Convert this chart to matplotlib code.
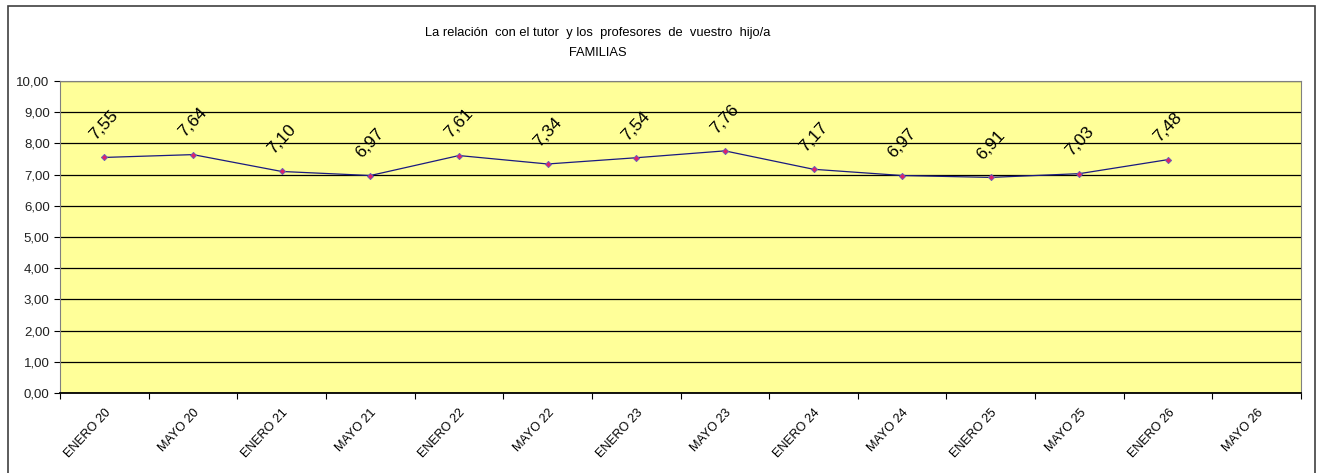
import matplotlib
matplotlib.use('Agg')
import matplotlib.pyplot as plt
import matplotlib.patches as patches

plt.rcParams['font.family'] = ['Liberation Sans', 'DejaVu Sans']

################################################################################
# Data
periodos = ['ENERO 20', 'MAYO 20', 'ENERO 21', 'MAYO 21', 'ENERO 22', 'MAYO 22',
            'ENERO 23', 'MAYO 23', 'ENERO 24', 'MAYO 24', 'ENERO 25', 'MAYO 25',
            'ENERO 26', 'MAYO 26']
valores = [7.55, 7.64, 7.10, 6.97, 7.61, 7.34, 7.54, 7.76, 7.17, 6.97, 6.91, 7.03, 7.48]
y_ticks = [0, 1, 2, 3, 4, 5, 6, 7, 8, 9, 10]

################################################################################
fig = plt.figure(figsize=(13.23, 4.73), dpi=100)
ax = fig.add_axes([0.0454, 0.1691, 0.9380, 0.6597])

# chart frame (excel style)
fig.patches.append(patches.Rectangle((8 / 1323, -0.05), 1307 / 1323, 1 - 6 / 473 + 0.05,
                                     transform=fig.transFigure, fill=False,
                                     edgecolor='#404040', linewidth=1.2))

ax.set_facecolor('#FFFF99')
x = list(range(len(valores)))
ax.plot(x, valores, color='#1A1A80', linewidth=0.9, marker='D', markersize=3.2,
        markerfacecolor='#E0206A', markeredgecolor='#6060C0', markeredgewidth=0.6, zorder=3)

for xi, v in zip(x, valores):
    ax.annotate(f'{v:.2f}'.replace('.', ','), (xi, v), xytext=(0, 23),
                textcoords='offset points', ha='center', va='center',
                rotation=47, fontsize=12.5)

ax.set_xlim(-0.5, len(periodos) - 0.5)
ax.set_ylim(0, 10)
ax.set_yticks(y_ticks)
ax.set_yticklabels([f'{t:.2f}'.replace('.', ',') for t in y_ticks], fontsize=9.5,
                   color='#202020')
ax.yaxis.grid(True, color='black', linewidth=0.9)
ax.set_axisbelow(True)

ax.set_xticks([i + 0.5 for i in range(-1, len(periodos))])
ax.set_xticklabels([])
ax.set_xticks(range(len(periodos)), minor=True)
ax.set_xticklabels(periodos, minor=True, rotation=47, ha='right', va='top',
                   rotation_mode='anchor', fontsize=9)
ax.tick_params(axis='x', which='minor', length=0, pad=10)
ax.tick_params(axis='x', which='major', length=4, direction='out')
ax.tick_params(axis='y', length=4, direction='out')

for side in ['top', 'right', 'left']:
    ax.spines[side].set_color('#808080')
ax.spines['bottom'].set_color('black')
ax.spines['bottom'].set_linewidth(1.3)

fig.text(0.452, 0.93, 'La relación  con el tutor  y los  profesores  de  vuestro  hijo/a',
         ha='center', va='center', fontsize=9.3)
fig.text(0.452, 0.889, 'FAMILIAS', ha='center', va='center', fontsize=9.3)

fig.savefig('out.png', dpi=100)
print('Done')
